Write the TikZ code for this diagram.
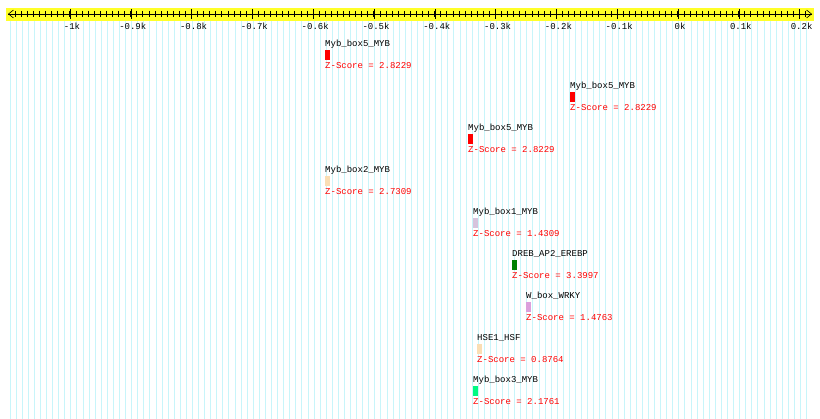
\documentclass[tikz,border=0pt]{standalone}
\usepackage{fontspec}
\setmonofont{Liberation Mono}
\usetikzlibrary{arrows.meta}
\definecolor{gridcyan}{RGB}{200,245,250}
\definecolor{axisyellow}{RGB}{255,255,40}
\definecolor{paleorange}{RGB}{250,222,180}
\definecolor{thistlegray}{RGB}{215,195,220}
\definecolor{plumpink}{RGB}{220,160,220}
\definecolor{springgr}{RGB}{0,250,130}
\begin{document}
\begin{tikzpicture}
        [
            x=1pt, y=-1pt,
            motiflabel/.style={anchor=base west, inner sep=0pt, font=\ttfamily\fontsize{9}{9}\selectfont},
            zlabel/.style={motiflabel, text=red},
            tickl/.style={anchor=base, inner sep=0pt, font=\ttfamily\fontsize{9}{9}\selectfont}
        ]
        \useasboundingbox (0,0) rectangle (820,419);
        % background grid
        \foreach \i in {0,...,131}
            \draw[gridcyan, line width=0.8pt] ({10+6.08*\i},20) -- ({10+6.08*\i},419);
        % axis band
        \fill[axisyellow] (6,8) rectangle (814,21);
        \coordinate (axl) at (8,14);
        \coordinate (axr) at (812,14);
        \draw[-{Straight Barb[length=5pt,width=8pt]}, line width=0.6pt] (axr) -- (axl);
        \draw[-{Straight Barb[length=5pt,width=8pt]}, line width=0.6pt] (axl) -- (axr);
        \foreach \i in {0,...,130}
            \draw[line width=0.5pt] ({15+6.08*\i},11) -- ({15+6.08*\i},17);
        \foreach \v [count=\k from 0] in {-1k,-0.9k,-0.8k,-0.7k,-0.6k,-0.5k,-0.4k,-0.3k,-0.2k,-0.1k,0k,0.1k,0.2k}
        {
            \draw[line width=0.6pt] ({70+60.8*\k},9) -- ({70+60.8*\k},19);
            \node[tickl] (t\k) at ({70+60.8*\k+2},30) {\v};
        }
        % motifs
        \foreach \x/\y/\nm/\z/\col [count=\n] in {
            325/44/Myb\_box5\_MYB/2.8229/red,
            570/86/Myb\_box5\_MYB/2.8229/red,
            468/128/Myb\_box5\_MYB/2.8229/red,
            325/170/Myb\_box2\_MYB/2.7309/paleorange,
            473/212/Myb\_box1\_MYB/1.4309/thistlegray,
            512/254/DREB\_AP2\_EREBP/3.3997/black!50!green,
            526/296/W\_box\_WRKY/1.4763/plumpink,
            477/338/HSE1\_HSF/0.8764/paleorange,
            473/380/Myb\_box3\_MYB/2.1761/springgr}
        {
            \node[motiflabel] (m\n) at (\x,\y+3) {\nm};
            \fill[\col] (\x,\y+6) rectangle (\x+5,\y+16);
            \node[zlabel] (z\n) at (\x,\y+25) {Z-Score = \z};
        }
    \end{tikzpicture}
\end{document}
